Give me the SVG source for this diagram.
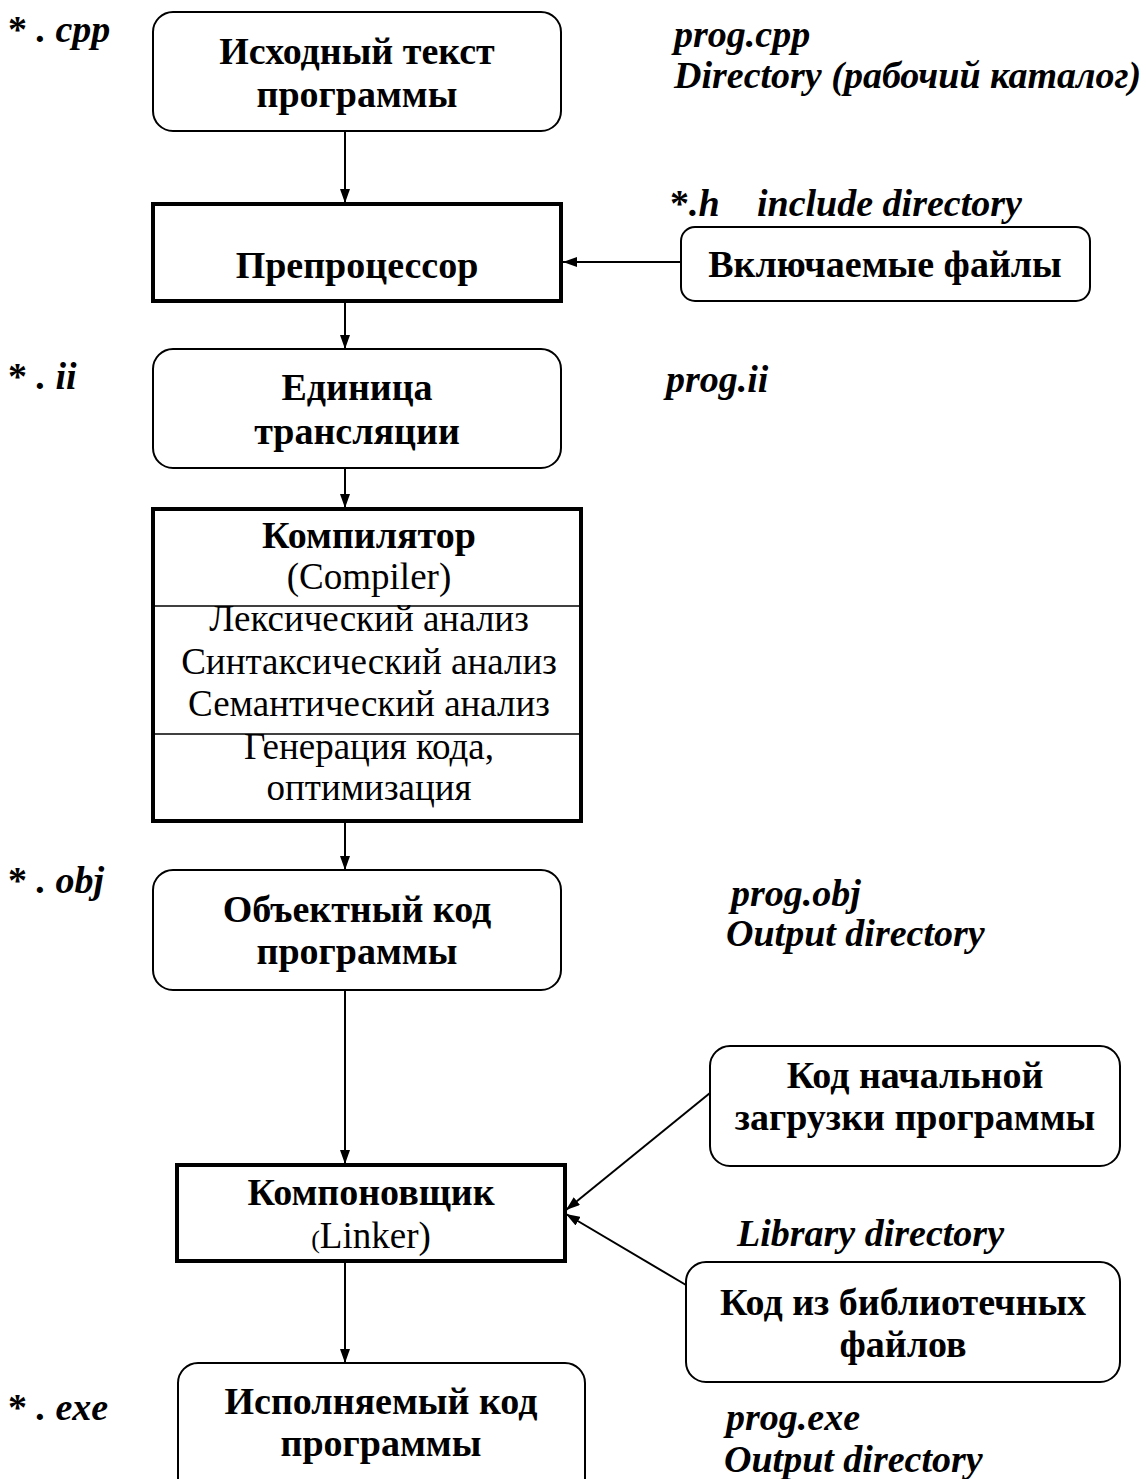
<svg xmlns="http://www.w3.org/2000/svg" width="1146" height="1479" viewBox="0 0 1146 1479">
<style>
  .rb { fill: #fff; stroke: #000; stroke-width: 2; }
  .tb { fill: #fff; stroke: #000; stroke-width: 4; }
  .ln { stroke: #000; stroke-width: 1.5; }
  .bt { font-family: "Liberation Serif", "Times New Roman", serif; font-weight: bold; font-size: 38px; text-anchor: middle; fill: #000; }
  .rt { font-family: "Liberation Serif", "Times New Roman", serif; font-size: 37px; text-anchor: middle; fill: #000; }
  .lb { font-family: "Liberation Serif", "Times New Roman", serif; font-weight: bold; font-style: italic; font-size: 38px; fill: #000; }
  .up { font-style: normal; }
  .cn { fill: none; stroke: #000; stroke-width: 2; }
</style>
<defs>
  <marker id="ah" viewBox="0 0 14 10" refX="14" refY="5" markerWidth="14" markerHeight="10" markerUnits="userSpaceOnUse" orient="auto">
    <path d="M0,0 L14,5 L0,10 z" fill="#000"/>
  </marker>
</defs>
<rect width="1146" height="1479" fill="#fff"/>

<g id="connectors">
  <line class="cn" x1="345" y1="131" x2="345" y2="203" marker-end="url(#ah)"/>
  <line class="cn" x1="681" y1="262" x2="563" y2="262" marker-end="url(#ah)"/>
  <line class="cn" x1="345" y1="301" x2="345" y2="349" marker-end="url(#ah)"/>
  <line class="cn" x1="345" y1="468" x2="345" y2="508" marker-end="url(#ah)"/>
  <line class="cn" x1="345" y1="821" x2="345" y2="870" marker-end="url(#ah)"/>
  <line class="cn" x1="345" y1="990" x2="345" y2="1164" marker-end="url(#ah)"/>
  <line class="cn" x1="710" y1="1093" x2="566" y2="1210" marker-end="url(#ah)"/>
  <line class="cn" x1="686" y1="1285" x2="566" y2="1214" marker-end="url(#ah)"/>
  <line class="cn" x1="345" y1="1262" x2="345" y2="1363" marker-end="url(#ah)"/>
</g>

<g id="source">
  <rect class="rb" x="153" y="12" width="408" height="119" rx="20"/>
  <text class="bt" x="357" y="64">Исходный текст</text>
  <text class="bt" x="357" y="107">программы</text>
</g>

<g id="preprocessor">
  <rect class="tb" x="153" y="204" width="408" height="97"/>
  <text class="bt" x="357" y="278">Препроцессор</text>
</g>

<g id="includes">
  <rect class="rb" x="681" y="227" width="409" height="74" rx="14"/>
  <text class="bt" x="885" y="277">Включаемые файлы</text>
</g>

<g id="unit">
  <rect class="rb" x="153" y="349" width="408" height="119" rx="20"/>
  <text class="bt" x="357" y="400">Единица</text>
  <text class="bt" x="357" y="444">трансляции</text>
</g>

<g id="compiler">
  <rect class="tb" x="153" y="509" width="428" height="312"/>
  <line class="ln" x1="153" y1="606" x2="581" y2="606"/>
  <line class="ln" x1="153" y1="734" x2="581" y2="734"/>
  <text class="bt" x="369" y="548">Компилятор</text>
  <text class="rt" x="369" y="589">(Compiler)</text>
  <text class="rt" x="369" y="631">Лексический анализ</text>
  <text class="rt" x="369" y="674">Синтаксический анализ</text>
  <text class="rt" x="369" y="716">Семантический анализ</text>
  <text class="rt" x="369" y="759">Генерация кода,</text>
  <text class="rt" x="369" y="800">оптимизация</text>
</g>

<g id="object">
  <rect class="rb" x="153" y="870" width="408" height="120" rx="20"/>
  <text class="bt" x="357" y="922">Объектный код</text>
  <text class="bt" x="357" y="964">программы</text>
</g>

<g id="startup">
  <rect class="rb" x="710" y="1046" width="410" height="120" rx="20"/>
  <text class="bt" x="915" y="1088">Код начальной</text>
  <text class="bt" x="915" y="1130">загрузки программы</text>
</g>

<g id="linker">
  <rect class="tb" x="177" y="1165" width="388" height="96"/>
  <text class="bt" x="371" y="1205">Компоновщик</text>
  <text class="rt" x="371" y="1248"><tspan font-size="26">(</tspan>Linker)</text>
</g>

<g id="library">
  <rect class="rb" x="686" y="1262" width="434" height="120" rx="20"/>
  <text class="bt" x="903" y="1315">Код из библиотечных</text>
  <text class="bt" x="903" y="1357">файлов</text>
</g>

<g id="executable">
  <rect class="rb" x="178" y="1363" width="407" height="140" rx="20"/>
  <text class="bt" x="381" y="1414">Исполняемый код</text>
  <text class="bt" x="381" y="1456">программы</text>
</g>

<g id="labels">
  <text class="lb" x="8" y="42"><tspan class="up">*</tspan> . cpp</text>
  <text class="lb" x="674" y="47">prog.cpp</text>
  <text class="lb" x="674" y="88">Directory (рабочий каталог)</text>
  <text class="lb" x="670" y="216"><tspan class="up">*</tspan>.h<tspan x="757">include directory</tspan></text>
  <text class="lb" x="8" y="389"><tspan class="up">*</tspan> . ii</text>
  <text class="lb" x="666" y="392">prog.ii</text>
  <text class="lb" x="8" y="893"><tspan class="up">*</tspan> . obj</text>
  <text class="lb" x="731" y="906">prog.obj</text>
  <text class="lb" x="726" y="946">Output directory</text>
  <text class="lb" x="737" y="1246">Library directory</text>
  <text class="lb" x="8" y="1420"><tspan class="up">*</tspan> . exe</text>
  <text class="lb" x="726" y="1430">prog.exe</text>
  <text class="lb" x="724" y="1472">Output directory</text>
</g>
</svg>
